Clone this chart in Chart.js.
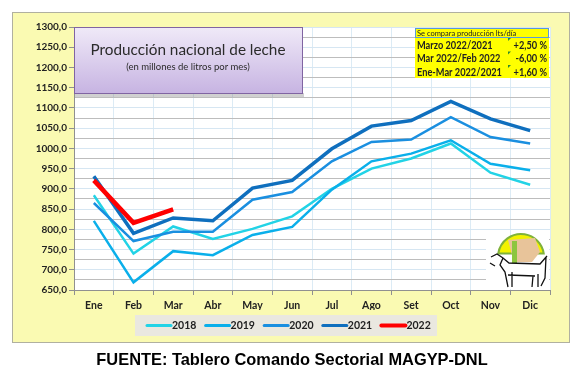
<!DOCTYPE html>
<html>
<head>
<meta charset="utf-8">
<script src="https://cdn.jsdelivr.net/npm/chart.js@4"></script>
<style>
  html, body { margin: 0; padding: 0; background: #fff; }
  #wrap { width: 585px; height: 386px; position: relative; }
</style>
</head>
<body>
<div id="wrap"><canvas id="lecheChart" width="585" height="386"></canvas></div>
<script>
// Datos (millones de litros por mes)
const months = ['Ene', 'Feb', 'Mar', 'Abr', 'May', 'Jun', 'Jul', 'Ago', 'Set', 'Oct', 'Nov', 'Dic'];
const years = ['2018', '2019', '2020', '2021', '2022'];
const prod2018 = [884, 740, 807, 776, 801, 832, 900, 950, 975, 1012, 940, 910];
const prod2019 = [821, 669, 746, 736, 786, 806, 898, 968, 987, 1020, 962, 946];
const prod2020 = [865, 771, 794, 794, 873, 892, 968, 1016, 1022, 1077, 1028, 1012];
const prod2021 = [931, 790, 828, 821, 902, 921, 999, 1055, 1069, 1116, 1073, 1044];
const prod2022 = [921, 816, 849];

// Cuadro comparativo
const infoHeader = 'Se compara producción lts/día';
const infoLabels = ['Marzo 2022/2021', 'Mar 2022/Feb 2022', 'Ene-Mar 2022/2021'];
const infoValues = ['+2,50 %', '-6,00 %', '+1,60 %'];

const chartTitle = 'Producción nacional de leche';
const chartSubtitle = '(en millones de litros por mes)';
const footerText = 'FUENTE: Tablero Comando Sectorial MAGYP-DNL';

const seriesData = [prod2018, prod2019, prod2020, prod2021, prod2022];
const colors = ['#22D3E6', '#0AAFEA', '#1A8FE0', '#0F6FBE', '#FF0000'];
const widths = [2.5, 2.5, 2.5, 3.5, 4.5];

const FONT = 'Lato, "Liberation Sans", sans-serif';

// texto algo comprimido, como Calibri
function narrowText(ctx, text, x, y) {
    ctx.fillText(text, x, y, ctx.measureText(text).width * 0.84);
}

// Fondo amarillo, caja de titulo, cuadro, leyenda, logo y fuente
const decorPlugin = {
    id: 'decor',
    beforeDraw(chart) {
        const ctx = chart.ctx;
        const a = chart.chartArea;
        ctx.save();
        ctx.fillStyle = '#FAFAB2';
        ctx.fillRect(12, 12, 557, 330);
        ctx.strokeStyle = '#B0B0A0';
        ctx.lineWidth = 1;
        ctx.strokeRect(12.5, 12.5, 557, 330);
        ctx.fillStyle = '#FFFFFF';
        ctx.fillRect(a.left, a.top, a.right - a.left, a.bottom - a.top);
        ctx.restore();
    },
    afterDatasetsDraw(chart) {
        const ctx = chart.ctx;
        ctx.save();
        // logo: fondo blanco
        ctx.fillStyle = '#FFFFFF';
        ctx.fillRect(486, 238, 63, 51);
        // semicirculo
        ctx.beginPath();
        ctx.arc(521, 257, 23, Math.PI * 1.05, Math.PI * 1.95);
        ctx.closePath();
        ctx.fillStyle = '#F2F200';
        ctx.fill();
        ctx.lineWidth = 2;
        ctx.strokeStyle = '#7FB23A';
        ctx.stroke();
        ctx.fillStyle = '#E8C49A';
        ctx.beginPath();
        ctx.moveTo(508, 240); ctx.lineTo(535, 238); ctx.lineTo(540, 252);
        ctx.lineTo(532, 262); ctx.lineTo(514, 262); ctx.closePath();
        ctx.fill();
        ctx.fillStyle = '#8CC63F';
        ctx.fillRect(512, 241, 5, 22);
        // vaca
        ctx.strokeStyle = '#111';
        ctx.lineWidth = 1.3;
        ctx.beginPath();
        ctx.moveTo(491, 257); ctx.lineTo(497, 254); ctx.lineTo(503, 258);
        ctx.lineTo(509, 263); ctx.lineTo(540, 264); ctx.lineTo(547, 256);
        ctx.moveTo(546, 257); ctx.lineTo(545, 278); ctx.lineTo(541, 286);
        ctx.moveTo(503, 258); ctx.lineTo(500, 265); ctx.lineTo(505, 272);
        ctx.lineTo(508, 287);
        ctx.moveTo(512, 272); ctx.lineTo(512, 287);
        ctx.moveTo(508, 275); ctx.lineTo(535, 276);
        ctx.moveTo(533, 276); ctx.lineTo(532, 287);
        ctx.moveTo(538, 274); ctx.lineTo(538, 287);
        ctx.moveTo(490, 263); ctx.lineTo(495, 266);
        ctx.stroke();
        ctx.restore();
    },
    afterDraw(chart) {
        const ctx = chart.ctx;
        ctx.save();

        // caja del titulo
        ctx.fillStyle = 'rgba(120,120,120,0.35)';
        ctx.fillRect(75, 93, 229, 4);
        const g = ctx.createLinearGradient(0, 27, 0, 93);
        g.addColorStop(0, '#F0EAF8');
        g.addColorStop(1, '#C7B4E2');
        ctx.fillStyle = g;
        ctx.fillRect(74, 27, 228, 66);
        ctx.strokeStyle = '#8064A2';
        ctx.lineWidth = 1;
        ctx.strokeRect(74.5, 27.5, 228, 66);
        ctx.fillStyle = '#2B2B2B';
        ctx.textAlign = 'center';
        ctx.textBaseline = 'middle';
        ctx.font = '15.3px ' + FONT;
        ctx.fillText(chartTitle, 188, 50);
        ctx.font = '9.5px ' + FONT;
        ctx.fillText(chartSubtitle, 188, 67);

        // cuadro comparativo
        ctx.fillStyle = '#FFFF00';
        ctx.fillRect(415, 28, 134, 50);
        ctx.strokeStyle = '#5B9BD5';
        ctx.strokeRect(415.5, 28.5, 133, 9);
        ctx.fillStyle = '#222';
        ctx.textAlign = 'left';
        ctx.font = '7.5px ' + FONT;
        ctx.fillText(infoHeader, 417, 33.5);
        ctx.font = 'bold 11px ' + FONT;
        const rowsY = [45, 58.5, 72];
        infoLabels.forEach((lab, i) => {
            ctx.textAlign = 'left';
            ctx.fillStyle = '#222';
            narrowText(ctx, lab, 417, rowsY[i]);
            ctx.textAlign = 'right';
            narrowText(ctx, infoValues[i], 547, rowsY[i]);
            ctx.fillStyle = '#2E8B2E';
            ctx.beginPath();
            ctx.moveTo(508, rowsY[i] - 7);
            ctx.lineTo(511, rowsY[i] - 7);
            ctx.lineTo(508, rowsY[i] - 4);
            ctx.fill();
        });

        // leyenda
        ctx.fillStyle = '#EAE8E0';
        ctx.fillRect(135, 315, 302, 21);
        ctx.textAlign = 'left';
        ctx.font = 'bold 10.5px ' + FONT;
        chart.data.datasets.forEach((ds, i) => {
            const x = 147 + i * 58.6;
            ctx.strokeStyle = ds.borderColor;
            ctx.lineWidth = i === 4 ? 4 : 3;
            ctx.lineCap = 'round';
            ctx.beginPath();
            ctx.moveTo(x, 325.5);
            ctx.lineTo(x + 24, 325.5);
            ctx.stroke();
            ctx.fillStyle = '#222';
            ctx.fillText(ds.label, x + 25, 325.5);
        });

        // fuente
        ctx.textAlign = 'center';
        ctx.fillStyle = '#000';
        ctx.font = 'bold 16.4px "Liberation Sans", Arial, sans-serif';
        ctx.fillText(footerText, 292, 360);
        ctx.restore();
    }
};

const chart = new Chart(document.getElementById('lecheChart'), {
    type: 'line',
    data: {
        labels: months,
        datasets: seriesData.map((d, i) => ({
            label: years[i],
            data: d,
            borderColor: colors[i],
            backgroundColor: colors[i],
            borderWidth: widths[i],
            pointRadius: 0,
            tension: 0,
            order: 4 - i
        }))
    },
    options: {
        responsive: false,
        animation: false,
        events: [],
        layout: { padding: { left: 12, right: 35, top: 27, bottom: 76 } },
        plugins: {
            legend: { display: false },
            tooltip: { enabled: false }
        },
        scales: {
            x: {
                offset: true,
                afterFit: (s) => { s.height = 20; },
                grid: {
                    offset: true,
                    color: '#DCEBF5',
                    tickColor: '#909090',
                    tickLength: 5
                },
                border: { color: '#909090' },
                ticks: {
                    color: '#222',
                    padding: 4,
                    font: { family: FONT, size: 10.5, weight: 'bold' }
                }
            },
            y: {
                min: 650,
                max: 1300,
                afterFit: (s) => { s.width = 62; },
                grid: {
                    color: (c) => (c.tick && c.tick.value % 50 === 0) ? '#D6E6F2' : '#BDBDBD',
                    tickColor: (c) => (c.tick && c.tick.value % 50 === 0) ? '#909090' : 'rgba(0,0,0,0)',
                    tickLength: 5
                },
                border: { color: '#909090' },
                ticks: {
                    stepSize: 25,
                    autoSkip: false,
                    padding: 2,
                    color: '#222',
                    font: { family: FONT, size: 10, weight: 'bold' },
                    callback: (v) => v % 50 === 0 ? v.toFixed(1).replace('.', ',') : ''
                }
            }
        }
    },
    plugins: [decorPlugin]
});
</script>
</body>
</html>
